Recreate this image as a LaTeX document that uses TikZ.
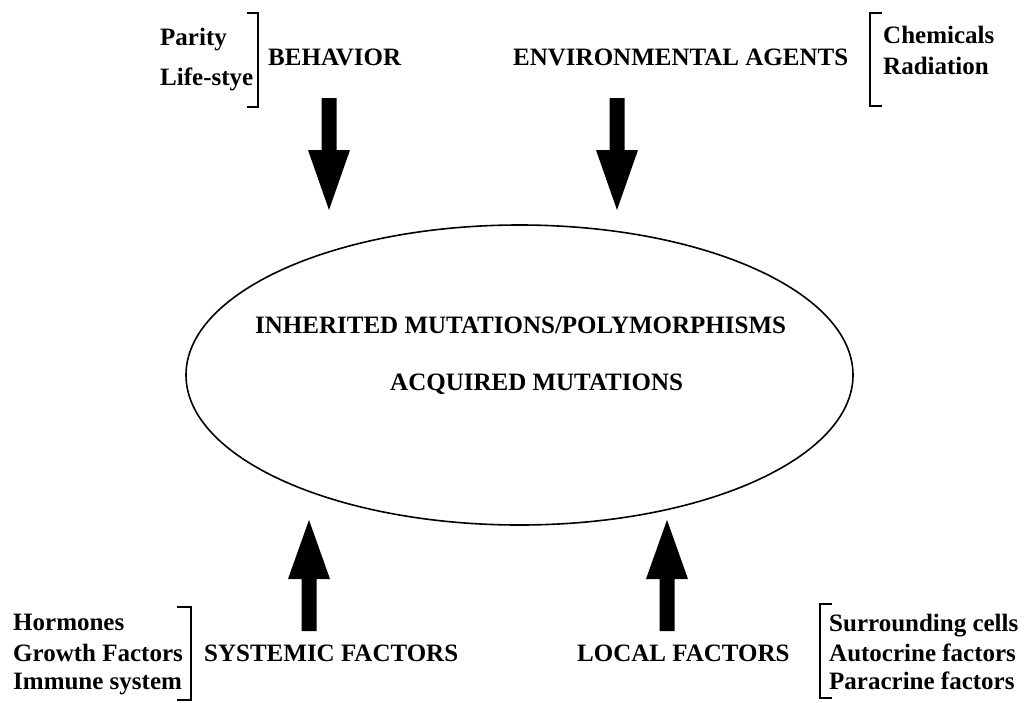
\documentclass[tikz,border=0pt]{standalone}
\usepackage{fontspec}
\setmainfont{Liberation Serif}
\usetikzlibrary{calc,shapes.geometric}
\newcommand\blkarrow[3]{% #1 shaft end, #2 tip, #3 head length (signed, toward shaft)
  \fill[black] ($(#1)+(-7.5,0)$) -- ($(#1)+(7.5,0)$) -- ($(#2)+(7.5,#3)$) -- ($(#2)+(21,#3)$)
    -- (#2) -- ($(#2)+(-21,#3)$) -- ($(#2)+(-7.5,#3)$) -- cycle;}
\begin{document}
\begin{tikzpicture}[x=1pt,y=-1pt,
  lbl/.style={anchor=base west,inner sep=0pt,font=\bfseries\fontsize{25}{30}\selectfont},
  brk/.style={line width=2pt},
]
\useasboundingbox (0,0) rectangle (1025,702);
\fill[white] (0,0) rectangle (1025,702);
% ellipse
\node[draw,ellipse,line width=1.6pt,minimum width=667pt,minimum height=300pt,inner sep=0pt] (ell) at (519.5,375) {};
\node[lbl] (inh) at (255,333) {INHERITED MUTATIONS/POLYMORPHISMS};
\node[lbl] (acq) at (390,390) {ACQUIRED MUTATIONS};
% top left
\node[lbl] (par) at (160,45) {Parity};
\node[lbl] (life) at (160,85) {Life-stye};
\node[lbl] (beh) at (268,65) {BEHAVIOR};
\draw[brk] (247,13) -- (258,13) -- (258,107) -- (247,107);
% top right
\node[lbl] (env) at (513,65) {ENVIRONMENTAL AGENTS};
\node[lbl] (chem) at (883,43) {Chemicals};
\node[lbl] (rad) at (883,74) {Radiation};
\draw[brk] (882,13) -- (870,13) -- (870,106) -- (882,106);
% bottom left
\node[lbl] (hor) at (13,630) {Hormones};
\node[lbl] (gro) at (13,661) {Growth Factors};
\node[lbl] (imm) at (13,689) {Immune system};
\node[lbl] (sys) at (204,661) {SYSTEMIC FACTORS};
\draw[brk] (177,607) -- (191,607) -- (191,700) -- (177,700);
% bottom right
\node[lbl] (loc) at (577,661) {LOCAL FACTORS};
\node[lbl] (sur) at (829,631) {Surrounding cells};
\node[lbl] (aut) at (829,661) {Autocrine factors};
\node[lbl] (parc) at (829,689) {Paracrine factors};
\draw[brk] (832,604) -- (820,604) -- (820,698) -- (832,698);
% block arrows
\coordinate (a1s) at (329,98);  \coordinate (a1e) at (329,210);
\coordinate (a2s) at (617,98);  \coordinate (a2e) at (617,210);
\coordinate (a3s) at (309,631); \coordinate (a3e) at (309,520);
\coordinate (a4s) at (667,631); \coordinate (a4e) at (667,520);
\blkarrow{a1s}{a1e}{-60}
\blkarrow{a2s}{a2e}{-60}
\blkarrow{a3s}{a3e}{59}
\blkarrow{a4s}{a4e}{59}
\end{tikzpicture}
\end{document}
